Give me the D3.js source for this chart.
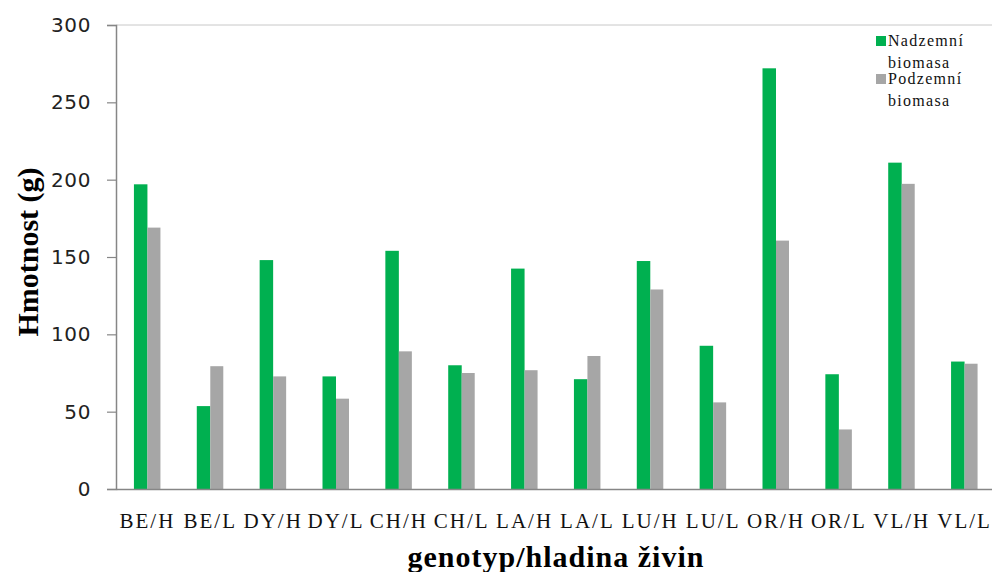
<!DOCTYPE html>
<html><head><meta charset="utf-8">
<script src="https://cdn.jsdelivr.net/npm/d3@7"></script>
<style>body{margin:0;background:#fff;} svg{display:block;}</style>
</head><body>
<script>
const categories = ["BE/H","BE/L","DY/H","DY/L","CH/H","CH/L","LA/H","LA/L","LU/H","LU/L","OR/H","OR/L","VL/H","VL/L"];
const nadzemni = [197, 53.6, 148, 72.8, 154, 80, 142.5, 71, 147.4, 92.6, 272, 74.2, 211, 82.4];
const podzemni = [169, 79.4, 72.8, 58.4, 89, 75, 76.8, 86, 129, 56, 160.6, 38.5, 197.3, 81];
const yTicks = [0, 50, 100, 150, 200, 250, 300];
const seriesNames = ["Nadzemní biomasa", "Podzemní biomasa"];
const colors = ["#00b050", "#a6a6a6"];

const W = 992, H = 572;
const mLeft = 116, mRight = 996, mTop = 25, mBottom = 489;
const svg = d3.select("body").append("svg").attr("width", W).attr("height", H);

const x = d3.scaleBand().domain(categories).range([mLeft, mRight]).padding(0);
const y = d3.scaleLinear().domain([0, 300]).range([mBottom, mTop]);
const bw = 13;

// top border line
svg.append("line").attr("x1", mLeft).attr("x2", W).attr("y1", y(300)).attr("y2", y(300))
  .attr("stroke", "#c8c8c8").attr("stroke-width", 1);

// bars
const data = categories.map((c, i) => ({c, a: nadzemni[i], b: podzemni[i]}));
svg.append("g").selectAll("rect").data(data).join("rect")
  .attr("x", d => x(d.c) + x.bandwidth()/2 - bw - 0.5)
  .attr("y", d => y(d.a)).attr("width", bw + 0.5).attr("height", d => y(0) - y(d.a))
  .attr("fill", colors[0]);
svg.append("g").selectAll("rect").data(data).join("rect")
  .attr("x", d => x(d.c) + x.bandwidth()/2)
  .attr("y", d => y(d.b)).attr("width", bw).attr("height", d => y(0) - y(d.b))
  .attr("fill", colors[1]);

// y axis
const yAxis = svg.append("g").attr("transform", `translate(${mLeft},0)`)
  .call(d3.axisLeft(y).tickValues(yTicks).tickSize(9).tickPadding(16));
yAxis.select(".domain").attr("stroke", "#868686").attr("stroke-width", 1.5);
yAxis.selectAll(".tick line").attr("stroke", "#868686").attr("stroke-width", 1.2);
yAxis.selectAll(".tick text").attr("font-family", "DejaVu Sans, Verdana, sans-serif")
  .attr("font-size", 20).attr("letter-spacing", "0.6px").attr("fill", "#222");

// x axis
const xAxis = svg.append("g").attr("transform", `translate(0,${mBottom})`)
  .call(d3.axisBottom(x).tickSize(0).tickPadding(24));
xAxis.select(".domain").attr("stroke", "#868686").attr("stroke-width", 1.5);
xAxis.selectAll(".tick text").attr("font-family", "Liberation Serif, Times New Roman, serif")
  .attr("font-size", 21).attr("letter-spacing", "2px").attr("fill", "#111");

// axis titles
svg.append("text").attr("x", 556).attr("y", 567).attr("text-anchor", "middle")
  .attr("font-family", "Liberation Serif, Times New Roman, serif").attr("font-weight", "bold")
  .attr("font-size", 30).attr("letter-spacing", "1px").text("genotyp/hladina živin");
svg.append("text").attr("transform", "translate(38,252) rotate(-90)").attr("text-anchor", "middle")
  .attr("font-family", "Liberation Serif, Times New Roman, serif").attr("font-weight", "bold")
  .attr("font-size", 30).text("Hmotnost (g)");

// legend
const lg = svg.append("g").attr("font-family", "Liberation Serif, Times New Roman, serif")
  .attr("font-size", 16).attr("letter-spacing", "1.3px").attr("fill", "#111");
seriesNames.forEach((n, i) => {
  const yy = 36 + i * 38;
  lg.append("rect").attr("x", 876).attr("y", yy).attr("width", 10).attr("height", 10).attr("fill", colors[i]);
  const parts = n.split(" ");
  lg.append("text").attr("x", 888).attr("y", yy + 10).text(parts[0]);
  lg.append("text").attr("x", 888).attr("y", yy + 32).text(parts[1]);
});
</script>
</body></html>
